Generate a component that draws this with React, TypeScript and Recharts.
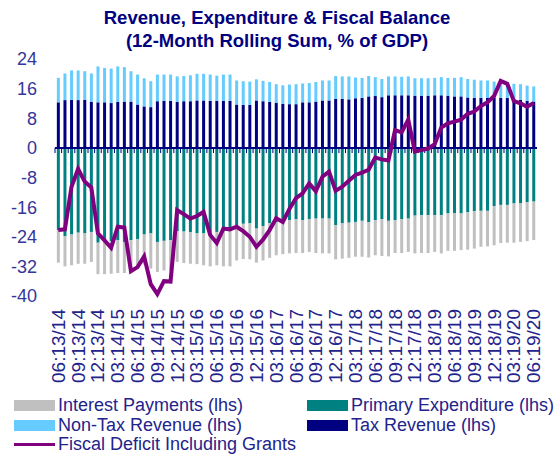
import React from 'react';
import {
  ComposedChart,
  Bar,
  Line,
  XAxis,
  YAxis,
  ReferenceLine,
} from 'recharts';

// quarterly tick labels (every 3rd month)
const quarterLabels = [
  '06:13/14', '09:13/14', '12:13/14', '03:14/15', '06:14/15', '09:14/15',
  '12:14/15', '03:15/16', '06:15/16', '09:15/16', '12:15/16', '03:16/17',
  '06:16/17', '09:16/17', '12:16/17', '03:17/18', '06:17/18', '09:17/18',
  '12:17/18', '03:18/19', '06:18/19', '09:18/19', '12:18/19', '03:19/20',
  '06:19/20',
];

const taxRevenue = [
  12.3, 12.9, 13.0, 12.9, 13.0, 12.4, 12.3, 12.3, 12.1, 12.4, 12.5, 12.5,
  11.7, 11.2, 11.0, 12.6, 12.7, 12.7, 12.4, 12.6, 12.6, 12.8, 12.8, 12.7,
  12.7, 12.7, 12.7, 11.7, 11.6, 11.6, 12.8, 12.6, 12.4, 12.2, 11.9, 11.8,
  11.8, 12.3, 12.3, 12.5, 12.8, 12.8, 13.2, 13.2, 13.1, 13.4, 13.5, 13.9,
  14.0, 13.7, 14.2, 14.2, 14.2, 14.2, 14.1, 14.1, 14.1, 14.2, 14.2, 14.1,
  13.9, 13.9, 13.6, 13.5, 13.5, 13.5, 13.6, 13.5, 13.5, 13.2, 13.0, 12.7,
  12.5,
];

const nonTaxRevenue = [
  6.6, 7.2, 7.9, 8.0, 7.7, 7.7, 9.7, 9.3, 9.3, 9.6, 9.3, 8.2,
  8.1, 7.6, 7.0, 7.2, 7.1, 7.1, 6.9, 6.8, 7.0, 7.2, 7.2, 7.1,
  6.8, 7.1, 7.1, 6.5, 6.4, 6.3, 5.7, 5.5, 5.4, 5.0, 5.0, 5.3,
  5.4, 5.1, 5.2, 5.3, 5.4, 5.4, 6.2, 6.1, 6.2, 5.6, 5.4, 5.5,
  5.1, 4.9, 5.1, 5.1, 5.0, 5.1, 4.7, 4.7, 4.7, 4.7, 4.9, 4.8,
  5.0, 5.2, 5.0, 4.9, 4.7, 4.7, 4.3, 4.2, 4.0, 4.1, 4.2, 4.1,
  4.1,
];

const primaryExpenditure = [
  -22.2, -23.8, -23.4, -22.9, -23.1, -22.7, -25.6, -25.4, -25.2, -24.9, -25.4, -24.9,
  -24.7, -23.4, -23.1, -25.4, -25.1, -24.9, -22.5, -22.6, -22.8, -23.1, -23.1, -22.9,
  -22.7, -22.4, -22.4, -20.9, -20.5, -20.4, -21.8, -21.1, -20.4, -20.1, -20.0, -19.5,
  -19.3, -19.5, -19.2, -19.1, -19.1, -19.1, -20.9, -20.4, -20.2, -20.0, -19.7, -20.1,
  -19.5, -19.2, -19.7, -19.5, -19.2, -19.1, -18.3, -18.2, -18.2, -18.2, -18.2, -17.7,
  -17.7, -17.7, -17.4, -17.1, -17.0, -17.0, -15.7, -15.4, -15.4, -15.0, -15.0, -14.7,
  -14.5,
];

const interestPayments = [
  -8.8, -8.2, -8.3, -8.4, -8.2, -8.1, -8.5, -8.7, -8.8, -8.9, -8.4, -8.2,
  -7.5, -8.1, -9.5, -8.1, -8.0, -8.2, -8.3, -8.5, -8.5, -8.3, -8.6, -9.1,
  -9.0, -9.6, -9.6, -9.5, -9.5, -9.7, -9.2, -9.3, -9.3, -8.9, -8.7, -9.0,
  -9.1, -8.9, -8.9, -9.3, -9.4, -9.4, -9.2, -9.5, -9.5, -9.4, -9.7, -9.5,
  -9.5, -10.0, -9.6, -8.9, -9.2, -9.0, -10.2, -10.2, -10.2, -9.9, -10.3, -10.1,
  -10.1, -9.9, -10.1, -10.1, -9.7, -9.6, -10.6, -10.3, -10.2, -10.6, -10.4, -10.5,
  -10.4,
];

const fiscalDeficit = [
  -22.2, -22.0, -10.5, -5.7, -9.1, -10.7, -23.1, -25.0, -27.0, -21.3, -21.5, -33.3,
  -32.2, -29.3, -36.8, -39.5, -36.0, -36.1, -16.8, -17.9, -19.1, -18.4, -17.3, -23.5,
  -25.7, -21.8, -22.0, -21.3, -22.5, -24.0, -26.7, -24.8, -22.2, -19.0, -20.0, -16.5,
  -13.6, -12.3, -9.6, -11.7, -7.8, -6.4, -11.6, -10.5, -8.9, -7.3, -6.7, -5.9,
  -2.6, -3.1, -3.4, 4.8, 4.2, 7.6, -1.0, -0.6, -0.2, 1.0, 5.5, 6.6,
  7.1, 7.6, 9.2, 9.8, 11.3, 12.3, 14.0, 18.1, 17.3, 12.6, 12.0, 11.1,
  12.1,
];

const yTicks = [-40, -32, -24, -16, -8, 0, 8, 16, 24];

const data = taxRevenue.map((tax, i) => ({
  month: i % 3 === 0 ? quarterLabels[i / 3] : `m${i}`,
  tax,
  nonTax: nonTaxRevenue[i],
  primary: primaryExpenditure[i],
  interest: interestPayments[i],
  deficit: fiscalDeficit[i],
}));

const NAVY = '#000080';
const LABEL = '#23238c';
const YLABEL = '#36369a';
const FONT = '"Liberation Sans", Arial, sans-serif';

const MonthTick = ({ x, y, payload }: any) => {
  const ty = y + 11;
  return (
    <text
      x={x}
      y={ty}
      transform={`rotate(-90 ${x} ${ty})`}
      textAnchor="end"
      dominantBaseline="central"
      fill={LABEL}
      fontSize={19}
      fontFamily={FONT}
    >
      {payload.value}
    </text>
  );
};

const legendRows = [
  [
    { name: 'Interest Payments (lhs)', color: '#C0C0C0', kind: 'bar' },
    { name: 'Primary Expenditure (lhs)', color: '#008080', kind: 'bar' },
  ],
  [
    { name: 'Non-Tax Revenue (lhs)', color: '#66CCFF', kind: 'bar' },
    { name: 'Tax Revenue (lhs)', color: NAVY, kind: 'bar' },
  ],
  [{ name: 'Fiscal Deficit Including Grants', color: '#800080', kind: 'line' }],
];

export default function App() {
  return (
    <div
      style={{
        position: 'absolute',
        left: 0,
        top: 0,
        width: 554,
        height: 454,
        background: '#fff',
        fontFamily: FONT,
        overflow: 'hidden',
      }}
    >
      <div
        style={{
          position: 'absolute',
          top: 6,
          width: 554,
          textAlign: 'center',
          color: NAVY,
          fontWeight: 'bold',
          fontSize: 18.5,
          lineHeight: '23px',
        }}
      >
        Revenue, Expenditure &amp; Fiscal Balance
        <br />
        (12-Month Rolling Sum, % of GDP)
      </div>

      <ComposedChart
        width={554}
        height={400}
        data={data}
        stackOffset="sign"
        barCategoryGap="28%"
        margin={{ top: 59, right: 17, left: 0, bottom: 0 }}
      >
        <XAxis
          dataKey="month"
          interval={2}
          axisLine={false}
          tickLine={false}
          tickSize={0}
          height={104}
          tick={<MonthTick />}
        />
        <YAxis
          domain={[-40, 24]}
          ticks={yTicks}
          width={55}
          axisLine={false}
          tickLine={false}
          tickSize={0}
          tickMargin={18}
          tick={{ fill: YLABEL, fontSize: 18, fontFamily: FONT }}
        />
        <Bar dataKey="tax" stackId="s" fill={NAVY} isAnimationActive={false} />
        <Bar dataKey="nonTax" stackId="s" fill="#66CCFF" isAnimationActive={false} />
        <Bar dataKey="primary" stackId="s" fill="#008080" isAnimationActive={false} />
        <Bar dataKey="interest" stackId="s" fill="#C0C0C0" isAnimationActive={false} />
        <ReferenceLine y={0} stroke={NAVY} strokeWidth={2} />
        {data.map((d) => (
          <ReferenceLine
            key={d.month}
            position="start"
            segment={[
              { x: d.month, y: 0 },
              { x: d.month, y: -1.4 },
            ]}
            stroke={NAVY}
            strokeWidth={1}
          />
        ))}
        <Line
          dataKey="deficit"
          type="linear"
          stroke="#800080"
          strokeWidth={4}
          dot={false}
          isAnimationActive={false}
        />
      </ComposedChart>

      <div style={{ position: 'absolute', top: 396, left: 0, width: 554 }}>
        {legendRows.map((row, r) => (
          <div key={r} style={{ position: 'relative', height: 19.5 }}>
            {row.map((item, c) => (
              <div
                key={item.name}
                style={{
                  position: 'absolute',
                  left: c === 0 ? 14 : 307,
                  top: 0,
                  height: 19.5,
                  display: 'flex',
                  alignItems: 'center',
                  whiteSpace: 'nowrap',
                }}
              >
                <span
                  style={{
                    display: 'inline-block',
                    width: 41,
                    height: item.kind === 'line' ? 3 : 11,
                    background: item.color,
                    marginRight: 3,
                  }}
                />
                <span style={{ color: LABEL, fontSize: 18, lineHeight: '19px' }}>
                  {item.name}
                </span>
              </div>
            ))}
          </div>
        ))}
      </div>
    </div>
  );
}
